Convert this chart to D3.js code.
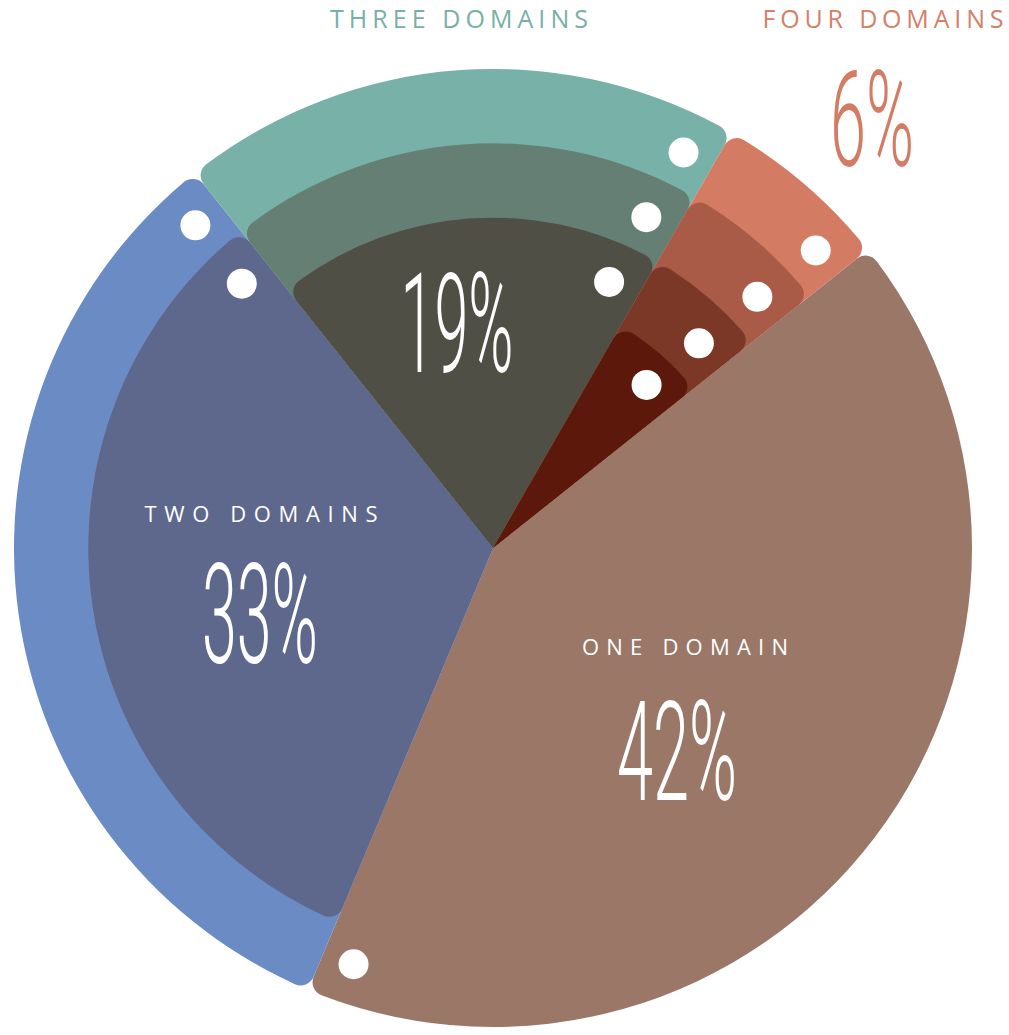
<!DOCTYPE html>
<html>
<head>
<meta charset="utf-8">
<script src="https://cdn.jsdelivr.net/npm/d3@7"></script>
<style>
  html, body { margin: 0; padding: 0; background: #fff; }
  svg { display: block; }
</style>
</head>
<body>
<svg id="chart" width="1009" height="1035"></svg>
<script>
// data
const categories = ["One domain", "Two domains", "Three domains", "Four domains"];
const shares = [42, 33, 19, 6];          // percent of respondents
const layerCounts = [1, 2, 3, 4];        // one ring per domain
const labels = ["ONE DOMAIN", "TWO DOMAINS", "THREE DOMAINS", "FOUR DOMAINS"];
const pctLabels = ["42%", "33%", "19%", "6%"];

// colours, outer ring first
const palette = [
  ["#9b7768"],
  ["#6b8bc5", "#5e678c"],
  ["#78b1a8", "#667f75", "#4f4f46"],
  ["#d47c63", "#a95b48", "#7b3827", "#5c190b"]
];

const svg = d3.select("#chart");
const cx = 493, cy = 548;
const start = 51.5 * Math.PI / 180;

const pie = d3.pie()
    .sort(null)
    .value(d => d.share)
    .startAngle(start)
    .endAngle(start + 2 * Math.PI);

const slices = pie(categories.map((c, i) => ({
  name: c, share: shares[i], layers: layerCounts[i], idx: i
})));

// ring radius by layer index
const rScale = d3.scaleLinear().domain([0, 3]).range([479, 256]);

const arc = d3.arc().innerRadius(0).cornerRadius(14);

const g = svg.append("g").attr("transform", `translate(${cx},${cy})`);

// dot sits near the clockwise end of each ring
function dotPos(s, l) {
  const r = rScale(l) - (l === 3 ? 32 : 40);
  const a = s.endAngle - Math.asin(32 / r);
  return [r * Math.sin(a), -r * Math.cos(a)];
}

slices.forEach(s => {
  const layers = d3.range(s.data.layers);
  const sg = g.append("g").attr("class", "slice");
  sg.selectAll("path")
    .data(layers)
    .join("path")
      .attr("d", l => arc({startAngle: s.startAngle, endAngle: s.endAngle, outerRadius: rScale(l)}))
      .attr("fill", l => palette[s.data.idx][l]);

  sg.selectAll("circle")
    .data(layers)
    .join("circle")
      .attr("cx", l => dotPos(s, l)[0])
      .attr("cy", l => dotPos(s, l)[1])
      .attr("r", 15)
      .attr("fill", "#fff");
});

// labels
const labelFont = "'Open Sans', Lato, sans-serif";
const numFont = "Roboto, 'Liberation Sans', sans-serif";

const labelPos = [
  {x: 685, y: 655, size: 22, w: 206, fill: "#fff"},
  {x: 261, y: 522, size: 22, w: 233, fill: "#fff"},
  {x: 459, y: 28, size: 25, w: 258, fill: "#78b0a8"},
  {x: 883, y: 28, size: 25, w: 241, fill: "#d38068"}
];
const pctPos = [
  {x: 677, y: 800, size: 140, w: 120, fill: "#fff"},
  {x: 260, y: 663, size: 140, w: 116, fill: "#fff"},
  {x: 457, y: 372, size: 140, w: 113, fill: "#fff"},
  {x: 872, y: 166, size: 133, w: 84, fill: "#d47c63"}
];

svg.append("g").selectAll("text")
  .data(labels)
  .join("text")
    .attr("x", (d, i) => labelPos[i].x - labelPos[i].w / 2)
    .attr("y", (d, i) => labelPos[i].y)
    .attr("font-family", labelFont)
    .attr("font-size", (d, i) => labelPos[i].size)
    .attr("fill", (d, i) => labelPos[i].fill)
    .attr("textLength", (d, i) => labelPos[i].w)
    .attr("lengthAdjust", "spacing")
    .text(d => d);

svg.append("g").selectAll("text")
  .data(pctLabels)
  .join("text")
    .attr("x", (d, i) => pctPos[i].x - pctPos[i].w / 2)
    .attr("y", (d, i) => pctPos[i].y)
    .attr("font-family", numFont)
    .attr("font-weight", 300)
    .attr("font-size", (d, i) => pctPos[i].size)
    .attr("fill", (d, i) => pctPos[i].fill)
    .attr("textLength", (d, i) => pctPos[i].w)
    .attr("lengthAdjust", "spacingAndGlyphs")
    .text(d => d);
</script>
</body>
</html>
